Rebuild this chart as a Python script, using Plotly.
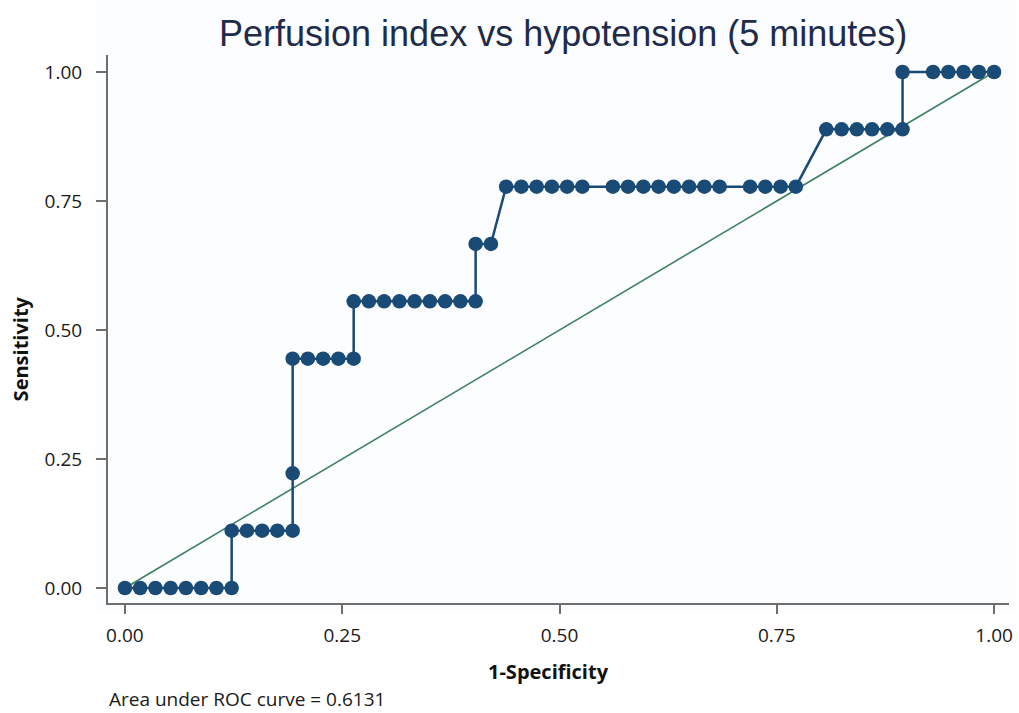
import plotly.graph_objects as go

# ROC curve points (1-Specificity, Sensitivity)
fpr = [0.0, 0.0175, 0.0351, 0.0526, 0.0702, 0.0877, 0.1053, 0.1228,
       0.1228, 0.1404, 0.1579, 0.1754, 0.1930,
       0.1930,
       0.1930, 0.2105, 0.2281, 0.2456, 0.2632,
       0.2632, 0.2807, 0.2982, 0.3158, 0.3333, 0.3509, 0.3684, 0.3860, 0.4035,
       0.4035, 0.4211,
       0.4386, 0.4561, 0.4737, 0.4912, 0.5088, 0.5263,
       0.5614, 0.5789, 0.5965, 0.6140, 0.6316, 0.6491, 0.6667, 0.6842,
       0.7193, 0.7368, 0.7544, 0.7719,
       0.8070, 0.8246, 0.8421, 0.8596, 0.8772, 0.8947,
       0.8947, 0.9298, 0.9474, 0.9649, 0.9825, 1.0]
tpr = [0.0] * 8 + [0.1111] * 5 + [0.2222] + [0.4444] * 5 + [0.5556] * 9 + \
      [0.6667] * 2 + [0.7778] * 18 + [0.8889] * 6 + [1.0] * 6

ref_x = [0.0, 1.0]
ref_y = [0.0, 1.0]

tick_vals = [0.0, 0.25, 0.50, 0.75, 1.0]
tick_text = ["0.00", "0.25", "0.50", "0.75", "1.00"]

title_text = "Perfusion index vs hypotension (5 minutes)"
x_title = "1-Specificity"
y_title = "Sensitivity"
note_text = "Area under ROC curve = 0.6131"

W, H = 1019, 713
L, R, T, B = 108, 6, 55, 110

navy = "#1a4a76"
green = "#3f8060"
axis_col = "#6e6e6e"
font_fam = "Open Sans, Noto Sans, sans-serif"

fig = go.Figure()
fig.add_trace(go.Scatter(x=ref_x, y=ref_y, mode="lines",
                         line=dict(color=green, width=1.6),
                         hoverinfo="skip", showlegend=False))
fig.add_trace(go.Scatter(x=fpr, y=tpr, mode="lines+markers",
                         line=dict(color=navy, width=2.5),
                         marker=dict(color=navy, size=14.5, line=dict(width=0)),
                         showlegend=False))

# faint tinted background region
fig.add_shape(type="rect", xref="paper", yref="paper",
              x0=(96 - L) / (W - L - R), x1=1.0 + R / (W - L - R),
              y0=-(612 - (H - B)) / (H - T - B), y1=1.0 + T / (H - T - B),
              fillcolor="#fbfdfe", line=dict(width=0), layer="below")

px_per_x = 873.0
px_per_y = 516.0
fig.update_xaxes(range=[(108 - 125) / px_per_x, 1 + (1013 - 998) / px_per_x],
                 tickvals=tick_vals, ticktext=tick_text,
                 showgrid=False, zeroline=False,
                 showline=True, linecolor=axis_col, linewidth=2,
                 ticks="outside", ticklen=9, tickwidth=2, tickcolor=axis_col,
                 tickfont=dict(family=font_fam, size=19, color="#1a1a1a"),
                 ticklabelstandoff=5)
fig.update_yaxes(range=[-(603 - 588) / px_per_y, 1 + (72 - 55) / px_per_y],
                 tickvals=tick_vals, ticktext=tick_text,
                 showgrid=False, zeroline=False,
                 showline=True, linecolor=axis_col, linewidth=2,
                 ticks="outside", ticklen=10, tickwidth=2, tickcolor=axis_col,
                 tickfont=dict(family=font_fam, size=19, color="#1a1a1a"),
                 ticklabelstandoff=10)

pw = W - L - R
ph = H - T - B
def px(x):
    return (x - L) / pw
def py(y):
    return (H - B - y) / ph

fig.add_annotation(text=title_text, xref="paper", yref="paper",
                   x=px(565), y=py(33), xanchor="center", yanchor="middle",
                   showarrow=False,
                   font=dict(family="Liberation Sans, Arial, sans-serif", size=36, color="#1f2b4a"))
fig.add_annotation(text="<b>" + x_title + "</b>", xref="paper", yref="paper",
                   x=px(550), y=py(671), xanchor="center", yanchor="middle",
                   showarrow=False,
                   font=dict(family=font_fam, size=20, color="#111111"))
fig.add_annotation(text="<b>" + y_title + "</b>", xref="paper", yref="paper",
                   x=px(20), y=py(349), xanchor="center", yanchor="middle",
                   textangle=-90, showarrow=False,
                   font=dict(family=font_fam, size=20, color="#111111"))
fig.add_annotation(text=note_text, xref="paper", yref="paper",
                   x=px(107), y=py(699), xanchor="left", yanchor="middle",
                   showarrow=False,
                   font=dict(family=font_fam, size=19, color="#1a1a1a"))

fig.update_layout(width=W, height=H,
                  margin=dict(l=L, r=R, t=T, b=B),
                  paper_bgcolor="white", plot_bgcolor="rgba(0,0,0,0)",
                  showlegend=False)

fig.write_html("out.html", config={"displayModeBar": False},
               post_script="document.body.style.margin='0px';document.body.style.overflow='hidden';")
